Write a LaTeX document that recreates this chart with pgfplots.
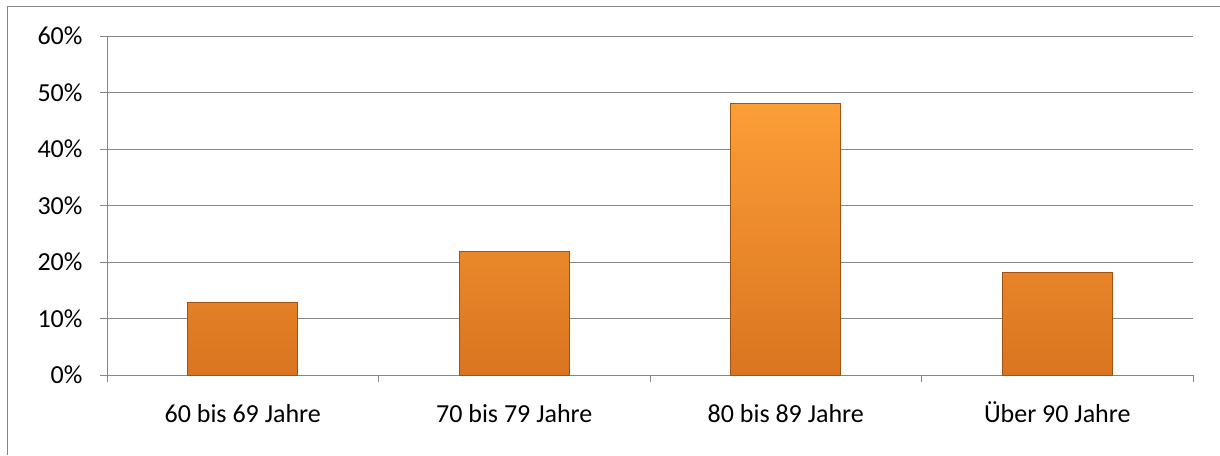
\documentclass[border=0pt]{standalone}
\usepackage{pgfplots}
\pgfplotsset{compat=1.18}
\usepackage{fontspec}
\setmainfont{Carlito}
\definecolor{gridc}{RGB}{134,134,134}
\definecolor{bartop}{RGB}{252,158,55}
\definecolor{barbot}{RGB}{218,116,32}
\definecolor{baredge}{RGB}{160,82,18}
\begin{document}
\begin{tikzpicture}[x=1pt,y=1pt]
\path[fill=white] (0,0) rectangle (1220,455);
\draw[gridc, line width=1pt] (7,0) -- (7,448) -- (1220,448);
\begin{axis}[
  at={(107pt,80pt)}, anchor=south west,
  scale only axis, width=1086pt, height=339pt,
  xmin=-0.5, xmax=3.5, ymin=0, ymax=60,
  axis x line*=bottom, axis y line*=left,
  axis line style={gridc, line width=1pt},
  ytick={0,10,...,60},
  yticklabel={\pgfmathprintnumber{\tick}\%},
  ymajorgrids, grid style={gridc, line width=1pt},
  xtick={0,1,2,3},
  xticklabels={60 bis 69 Jahre,70 bis 79 Jahre,80 bis 89 Jahre,Über 90 Jahre},
  minor xtick={-0.5,0.5,1.5,2.5,3.5},
  tick align=outside,
  major tick length=7pt, minor tick length=7pt,
  x tick style={draw=none},
  minor x tick style={draw=gridc, line width=1pt},
  y tick style={draw=gridc, line width=1pt},
  xticklabel style={font=\fontsize{26}{31}\selectfont, text height=17pt, text depth=6pt, anchor=north, yshift=-20pt},
  yticklabel style={font=\fontsize{26}{31}\selectfont, xshift=-14pt},
  /pgf/number format/assume math mode=true,
  clip=false,
]
\addplot[ybar, bar width=110pt, draw=baredge, line width=0.8pt,
  top color=bartop, bottom color=barbot]
  coordinates {(0,12.9) (1,21.9) (2,48.1) (3,18.2)};
\end{axis}
\pgfresetboundingbox
\path (0,0) rectangle (1220,455);
\end{tikzpicture}
\end{document}
